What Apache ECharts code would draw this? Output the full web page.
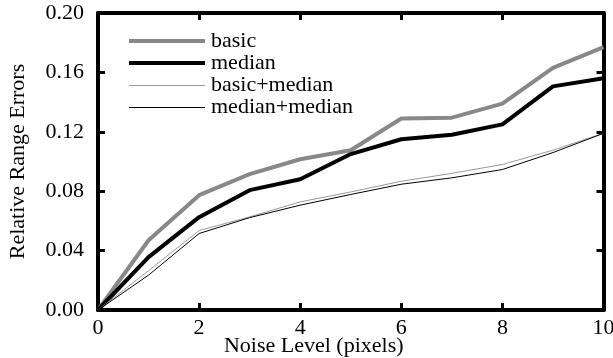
<!DOCTYPE html>
<html>
<head>
<meta charset="utf-8">
<script src="https://cdn.jsdelivr.net/npm/echarts@6/dist/echarts.min.js"></script>
<style>
html,body{margin:0;padding:0;background:#fff;}
#c{width:613px;height:358px;}
</style>
</head>
<body>
<div id="c"></div>
<script>
const noise = [0, 1, 2, 3, 4, 5, 6, 7, 8, 9, 10];
const basic = [0, 0.047, 0.0773, 0.0915, 0.1015, 0.1076, 0.129, 0.1295, 0.139, 0.163, 0.177];
const median = [0, 0.0356, 0.0625, 0.0807, 0.088, 0.105, 0.115, 0.118, 0.125, 0.1506, 0.156];
const basicMedian = [0, 0.0265, 0.0535, 0.0627, 0.0728, 0.0795, 0.0867, 0.092, 0.098, 0.1076, 0.119];
const medianMedian = [0, 0.0235, 0.0515, 0.0622, 0.0706, 0.0778, 0.0847, 0.089, 0.0946, 0.106, 0.119];
const seriesNames = ['basic', 'median', 'basic+median', 'median+median'];

const font = 'Liberation Serif';
const pair = (arr) => noise.map((x, i) => [x, arr[i]]);
const tick = () => ({show: true, inside: false, length: -7, lineStyle: {color: '#000', width: 3}});
const axLine = () => ({show: true, onZero: false, lineStyle: {color: '#000', width: 4}});

const colors = ['#888', '#000', '#999', '#000'];
const widths = [4, 4, 1, 1];
const legendTops = [25, 47, 69.5, 91.5];

const legends = seriesNames.map((n, i) => ({
  orient: 'vertical',
  left: 124,
  top: legendTops[i],
  itemWidth: 76,
  itemHeight: widths[i],
  icon: 'rect',
  data: [n],
  itemStyle: {color: colors[i], borderWidth: 0},
  textStyle: {fontFamily: font, fontSize: 22, lineHeight: 22, color: '#000', padding: [0, 0, 0, 1]}
}));

const chart = echarts.init(document.getElementById('c'), null, {renderer: 'canvas'});
chart.setOption({
  animation: false,
  backgroundColor: '#fff',
  grid: {left: 98, right: 9.5, top: 13, bottom: 48, containLabel: false, outerBoundsMode: 'none'},
  legend: legends,
  xAxis: [{
    type: 'value', min: 0, max: 10, interval: 2,
    position: 'bottom',
    axisLine: axLine(), axisTick: tick(), splitLine: {show: false},
    axisLabel: {fontFamily: font, fontSize: 22, color: '#000', margin: 7},
    name: 'Noise Level (pixels)', nameLocation: 'middle', nameGap: 25, nameMoveOverlap: false,
    nameTextStyle: {fontFamily: font, fontSize: 22, color: '#000', padding: [0, 74, 0, 0]}
  }, {
    type: 'value', min: 0, max: 10, interval: 2,
    position: 'top',
    axisLine: axLine(), axisTick: tick(), splitLine: {show: false},
    axisLabel: {show: false}
  }],
  yAxis: [{
    type: 'value', min: 0, max: 0.2, interval: 0.04,
    position: 'left',
    axisLine: axLine(), axisTick: tick(), splitLine: {show: false},
    axisLabel: {fontFamily: font, fontSize: 22, color: '#000', margin: 14, formatter: (v) => v.toFixed(2)},
    name: 'Relative Range Errors', nameLocation: 'middle', nameGap: 69, nameRotate: 90, nameMoveOverlap: false,
    nameTextStyle: {fontFamily: font, fontSize: 22, color: '#000'}
  }, {
    type: 'value', min: 0, max: 0.2, interval: 0.04,
    position: 'right',
    axisLine: axLine(), axisTick: tick(), splitLine: {show: false},
    axisLabel: {show: false}
  }],
  series: seriesNames.map((n, i) => ({
    name: n, type: 'line',
    data: pair([basic, median, basicMedian, medianMedian][i]),
    symbol: 'none',
    lineStyle: {color: colors[i], width: widths[i]},
    itemStyle: {color: colors[i]},
    z: 3 + i
  }))
});
</script>
</body>
</html>
